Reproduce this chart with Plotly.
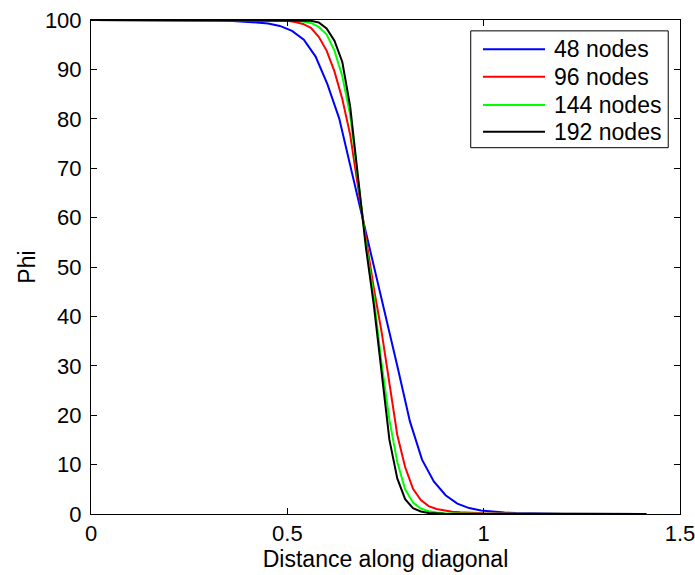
import plotly.graph_objects as go

# ---- data ----
x48 = [0, 0.030, 0.060, 0.090, 0.120, 0.150, 0.181, 0.211, 0.241, 0.271, 0.301, 0.331,
       0.361, 0.391, 0.421, 0.451, 0.481, 0.512, 0.542, 0.572, 0.602, 0.632, 0.662, 0.692,
       0.722, 0.752, 0.782, 0.812, 0.843, 0.873, 0.903, 0.933, 0.963, 0.993, 1.023, 1.053,
       1.083, 1.113, 1.143, 1.173, 1.204, 1.234, 1.264, 1.294, 1.324, 1.354, 1.384, 1.414]
y48 = [100, 100, 100, 100, 100, 100, 100, 100, 99.99, 99.98, 99.95, 99.9,
       99.8, 99.7, 99.5, 99.3, 98.8, 97.8, 96.0, 92.6, 87.0, 80.1, 70.0, 59.6,
       49.5, 40.0, 29.3, 18.8, 11.0, 6.6, 3.8, 2.1, 1.2, 0.7, 0.45, 0.3,
       0.2, 0.13, 0.09, 0.06, 0.04, 0.03, 0.02, 0.015, 0.01, 0.01, 0.005, 0.0]

x96 = [0, 0.2, 0.4, 0.46, 0.50, 0.52, 0.54, 0.56, 0.58, 0.60, 0.62, 0.64, 0.66, 0.68,
       0.70, 0.72, 0.74, 0.76, 0.78, 0.80, 0.82, 0.84, 0.86, 0.88, 0.90, 0.92, 0.94,
       0.96, 1.0, 1.1, 1.2, 1.3, 1.414]
y96 = [100, 100, 99.98, 99.95, 99.85, 99.6, 99.2, 98.4, 96.6, 93.8, 89.6, 84.0, 76.8, 66.2,
       55.8, 45.8, 36.9, 26.0, 16.0, 9.5, 5.1, 2.8, 1.6, 1.0, 0.65, 0.45, 0.33,
       0.25, 0.15, 0.05, 0.02, 0.01, 0.0]

x144 = [0, 0.4, 0.50, 0.52, 0.54, 0.56, 0.58, 0.60, 0.62, 0.64, 0.66, 0.68, 0.70, 0.72,
        0.74, 0.76, 0.78, 0.80, 0.82, 0.84, 0.86, 0.88, 0.90, 1.0, 1.2, 1.414]
y144 = [100, 100, 99.95, 99.9, 99.7, 99.4, 98.6, 97.1, 93.8, 88.6, 80.8, 67.9, 54.8, 44.0,
        30.5, 19.0, 10.5, 5.0, 2.3, 1.1, 0.55, 0.3, 0.15, 0.03, 0.0, 0.0]

x192 = [0, 0.5, 0.54, 0.56, 0.58, 0.60, 0.62, 0.64, 0.66, 0.68, 0.70, 0.72, 0.74, 0.76,
        0.78, 0.80, 0.82, 0.84, 0.86, 0.88, 0.90, 1.0, 1.414]
y192 = [100, 100, 99.95, 99.85, 99.5, 98.3, 95.8, 91.5, 82.5, 68.6, 54.0, 42.5, 28.5, 15.0,
        7.2, 3.0, 1.2, 0.5, 0.2, 0.1, 0.05, 0.0, 0.0]

names = ["48 nodes", "96 nodes", "144 nodes", "192 nodes"]
colors = ["#0000ff", "#ff0000", "#00ff00", "#000000"]

xticks = [0, 0.5, 1, 1.5]
xticklabels = ["0", "0.5", "1", "1.5"]
yticks = [0, 10, 20, 30, 40, 50, 60, 70, 80, 90, 100]

FONT = "Liberation Sans, Arial, sans-serif"

fig = go.Figure()
for xs, ys, nm, c in zip([x48, x96, x144, x192], [y48, y96, y144, y192], names, colors):
    fig.add_trace(go.Scatter(x=xs, y=ys, mode="lines", name=nm, showlegend=False,
                             line=dict(color=c, width=2)))

axis_common = dict(showgrid=False, zeroline=False, showline=True, linecolor="black",
                   linewidth=1, mirror="ticks", ticks="inside", ticklen=6,
                   tickcolor="black", automargin=False, ticklabeloverflow="allow",
                   tickfont=dict(family=FONT, size=22, color="black"))

# ---- legend (drawn in paper coordinates, MATLAB style) ----
leg_x0, leg_x1, leg_y0, leg_y1 = 0.6447, 0.980, 0.7415, 0.978
leg_line_x0, leg_line_x1, leg_text_x = 0.6655, 0.7708, 0.7822
leg_rows = [0.9407, 0.8852, 0.8279, 0.7739]

shapes = [dict(type="rect", xref="paper", yref="paper", x0=leg_x0, x1=leg_x1,
               y0=leg_y0, y1=leg_y1, line=dict(color="black", width=1),
               fillcolor="white", layer="above")]
annotations = []
for nm, c, yy in zip(names, colors, leg_rows):
    shapes.append(dict(type="line", xref="paper", yref="paper", x0=leg_line_x0,
                       x1=leg_line_x1, y0=yy, y1=yy, line=dict(color=c, width=2),
                       layer="above"))
    annotations.append(dict(xref="paper", yref="paper", x=leg_text_x, y=yy,
                            xanchor="left", yanchor="middle", text=nm, showarrow=False,
                            font=dict(family=FONT, size=23, color="black")))

fig.update_layout(
    width=695, height=575,
    margin=dict(l=91, r=15, t=20, b=61),
    paper_bgcolor="white", plot_bgcolor="white",
    font=dict(family=FONT, size=22, color="black"),
    xaxis=dict(range=[0, 1.5], tickvals=xticks, ticktext=xticklabels,
               title=dict(text="Distance along diagonal", standoff=4,
                          font=dict(family=FONT, size=23)),
               **axis_common),
    yaxis=dict(range=[0, 100], tickvals=yticks, ticklabelstandoff=4,
               title=dict(text="Phi", standoff=2, font=dict(family=FONT, size=23)),
               **axis_common),
    shapes=shapes,
    annotations=annotations,
    showlegend=False,
)

# remove the page's default body margin so the figure fills the window exactly
fig.write_html("out.html",
               config={"displayModeBar": False},
               post_script="document.body.style.margin='0';document.body.style.overflow='hidden';")
